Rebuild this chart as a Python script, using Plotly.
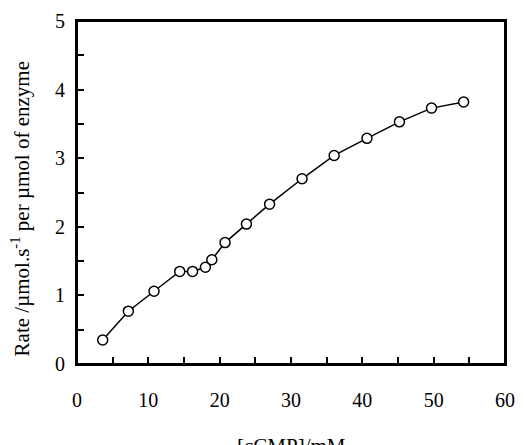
import plotly.graph_objects as go

conc_mM = [3.6, 7.2, 10.8, 14.4, 16.2, 18.0, 18.9, 20.75, 23.75, 27.0, 31.55, 36.05, 40.65, 45.2, 49.7, 54.2]
rate = [0.35, 0.77, 1.06, 1.35, 1.35, 1.41, 1.52, 1.77, 2.04, 2.33, 2.70, 3.04, 3.29, 3.53, 3.73, 3.82]

x_tickvals = [0, 5, 10, 15, 20, 25, 30, 35, 40, 45, 50, 55, 60]
x_ticktext = ["0", "", "10", "", "20", "", "30", "", "40", "", "50", "", "60"]
y_tickvals = [0, 0.5, 1, 1.5, 2, 2.5, 3, 3.5, 4, 4.5, 5]
y_ticktext = ["0", "", "1", "", "2", "", "3", "", "4", "", "5"]

x_title = "[cCMP]/mM"
y_title = "Rate /µmol.s<sup>-1</sup> per µmol of enzyme"

font_family = "Liberation Serif, Times New Roman, serif"

fig = go.Figure()
fig.add_trace(go.Scatter(
    x=conc_mM, y=rate, mode="lines+markers",
    line=dict(color="black", width=1.5),
    marker=dict(symbol="circle", size=10, color="white",
                line=dict(color="black", width=1.5)),
    showlegend=False,
))

# the page body adds an 8px offset, so the figure is sized and placed to compensate
fig.update_layout(
    width=516, height=437,
    margin=dict(l=69, r=19, t=13, b=81),
    paper_bgcolor="white", plot_bgcolor="white",
    font=dict(family=font_family, color="black", size=20),
)
fig.update_xaxes(
    range=[0, 60], tickmode="array", tickvals=x_tickvals, ticktext=x_ticktext,
    ticks="inside", ticklen=7, tickwidth=1.5, tickcolor="black",
    showline=True, linecolor="black", linewidth=2, mirror=True,
    showgrid=False, zeroline=False, automargin=False,
    ticklabelstandoff=17,
    tickfont=dict(size=20),
)
fig.update_yaxes(
    range=[0, 5], tickmode="array", tickvals=y_tickvals, ticktext=y_ticktext,
    ticks="inside", ticklen=7, tickwidth=1.5, tickcolor="black",
    showline=True, linecolor="black", linewidth=2, mirror=True,
    showgrid=False, zeroline=False, automargin=False,
    ticklabelstandoff=6,
    tickfont=dict(size=20),
)

# plot frame
fig.add_shape(
    type="rect", xref="paper", yref="paper", x0=0, y0=0, x1=1, y1=1,
    line=dict(color="black", width=2), fillcolor="rgba(0,0,0,0)", layer="above",
)

fig.add_annotation(
    text=x_title, xref="paper", yref="paper", x=0.5, y=0,
    xanchor="center", yanchor="top", yshift=-68, showarrow=False,
    font=dict(size=21),
)
fig.add_annotation(
    text=y_title, xref="paper", yref="paper", x=-0.131, y=0.4534,
    xanchor="center", yanchor="middle", textangle=-90, showarrow=False,
    font=dict(size=21),
)

fig.write_html("out.html")
